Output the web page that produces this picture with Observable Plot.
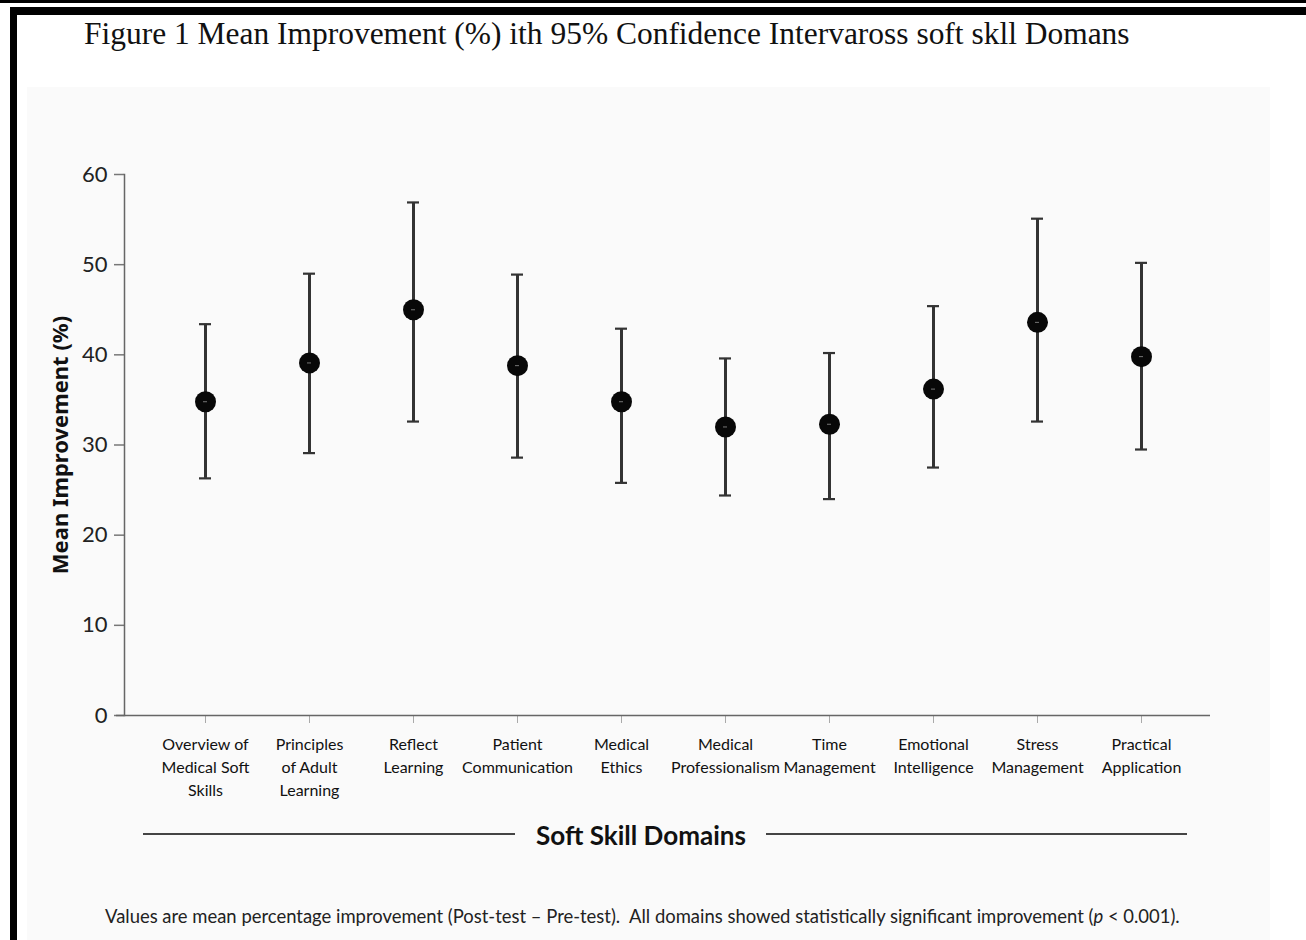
<!DOCTYPE html>
<html><head><meta charset="utf-8">
<script src="https://cdn.jsdelivr.net/npm/d3@7"></script>
<script src="https://cdn.jsdelivr.net/npm/@observablehq/plot@0.6"></script>
<style>
html,body{margin:0;padding:0;background:#fff;}
#page{position:relative;width:1306px;height:940px;overflow:hidden;background:#fff;font-family:Lato,"Noto Sans",sans-serif;}
.bar{position:absolute;background:#000;}
#panel{position:absolute;left:27px;top:87px;width:1243px;height:853px;background:#fafafa;}
#title{position:absolute;left:84px;top:18px;font-family:"Liberation Serif",serif;font-size:29px;line-height:1;color:#111;white-space:nowrap;}
#chart{position:absolute;left:27px;top:87px;}
.hline{position:absolute;height:2px;background:#444;top:833px;}
#xtitle{position:absolute;top:820px;left:641px;transform:translateX(-50%);font-weight:bold;font-size:22px;line-height:1.2;color:#111;white-space:nowrap;}
#caption{position:absolute;left:105px;top:905px;font-size:15px;line-height:1.2;color:#222;white-space:nowrap;}
</style></head>
<body>
<div id="page">
  <div class="bar" style="left:0;top:0;width:1306px;height:3px;"></div>
  <div class="bar" style="left:10px;top:7px;width:1296px;height:8px;"></div>
  <div class="bar" style="left:10px;top:7px;width:7px;height:933px;"></div>
  <div id="panel"></div>
  <div id="title">Figure 1 Mean Improvement (%) ith 95% Confidence Intervaross soft skll Domans</div>
  <div id="chart"></div>
  <div class="hline" style="left:143px;width:372px;"></div>
  <div class="hline" style="left:766px;width:421px;"></div>
  <div id="xtitle">Soft Skill Domains</div>
  <div id="caption">Values are mean percentage improvement (Post-test – Pre-test).&nbsp; All domains showed statistically significant improvement (<i>p</i> &lt; 0.001).</div>
</div>
<script>
const domains = [
  "Overview of\nMedical Soft\nSkills",
  "Principles\nof Adult\nLearning",
  "Reflect\nLearning",
  "Patient\nCommunication",
  "Medical\nEthics",
  "Medical\nProfessionalism",
  "Time\nManagement",
  "Emotional\nIntelligence",
  "Stress\nManagement",
  "Practical\nApplication"
];
const means = [34.8, 39.1, 45.0, 38.8, 34.8, 32.0, 32.3, 36.2, 43.6, 39.8];
const lower = [26.3, 29.1, 32.6, 28.6, 25.8, 24.4, 24.0, 27.5, 32.6, 29.5];
const upper = [43.4, 49.0, 56.9, 48.9, 42.9, 39.6, 40.2, 45.4, 55.1, 50.2];
const yTicks = [0, 10, 20, 30, 40, 50, 60];
const yLabel = "Mean Improvement (%)";

const data = domains.map((d, i) => ({domain: d, mean: means[i], lo: lower[i], hi: upper[i]}));

function fit(el, w) {
  const cur = el.getBoundingClientRect().width;
  const fs = parseFloat(getComputedStyle(el).fontSize);
  el.style.fontSize = (fs * w / cur) + "px";
}
fit(document.getElementById("title"), 1046);
fit(document.getElementById("caption"), 1075);
fit(document.getElementById("xtitle"), 210);

const chart = Plot.plot({
  width: 1243,
  height: 718,
  marginLeft: 97,
  marginRight: 60,
  marginTop: 87,
  marginBottom: 90,
  style: {background: "transparent", fontFamily: "Lato, 'Noto Sans', sans-serif", overflow: "visible"},
  x: {type: "band", domain: domains, range: [177.5, 1114], paddingInner: 1, paddingOuter: 0, axis: null},
  y: {domain: [0, 60], axis: null},
  marks: [
    Plot.axisY(yTicks, {tickSize: 10, tickPadding: 7, fontSize: 22, stroke: "#777", strokeWidth: 1.5, fill: "#222", label: null}),
    Plot.axisX({tickSize: 8, tickPadding: 10, fontSize: 16, lineHeight: 1.45, stroke: "#aaa", fill: "#111", label: null}),
    Plot.ruleY([0], {stroke: "#666", strokeWidth: 1.5, insetLeft: -8}),
    Plot.frame({anchor: "left", stroke: "#666", strokeWidth: 1.5}),
    Plot.ruleX(data, {x: "domain", y1: "lo", y2: "hi", stroke: "#333", strokeWidth: 3}),
    Plot.tickY(data, {x: "domain", y: "hi", insetLeft: -6, insetRight: -6, stroke: "#333", strokeWidth: 2.2}),
    Plot.tickY(data, {x: "domain", y: "lo", insetLeft: -6, insetRight: -6, stroke: "#333", strokeWidth: 2.2}),
    Plot.dot(data, {x: "domain", y: "mean", r: 10.5, fill: "#080808"}),
    Plot.tickY(data, {x: "domain", y: "mean", insetLeft: -2, insetRight: -2, stroke: "#777", strokeWidth: 1}),
    Plot.text([yLabel], {frameAnchor: "left", dx: -64, rotate: -90, textAnchor: "middle", fontSize: 22, fontWeight: "bold", fontFamily: "'Noto Sans', sans-serif", fill: "#111"})
  ]
});
document.getElementById("chart").appendChild(chart);
</script>
</body></html>
